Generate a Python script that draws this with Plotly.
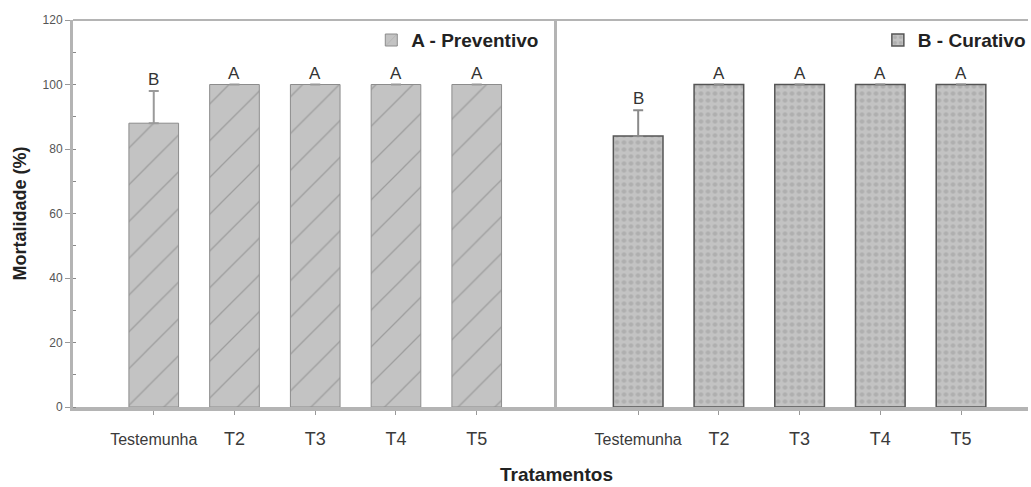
import plotly.graph_objects as go

# Treatments and mortality (%) for the two application modes
categories = ["Testemunha", "T2", "T3", "T4", "T5"]
preventivo = [88, 100, 100, 100, 100]
preventivo_err = [10, 0, 0, 0, 0]
preventivo_letters = ["B", "A", "A", "A", "A"]
curativo = [84, 100, 100, 100, 100]
curativo_err = [8, 0, 0, 0, 0]
curativo_letters = ["B", "A", "A", "A", "A"]
y_ticks = [0, 20, 40, 60, 80, 100, 120]

positions = list(range(1, len(categories) + 1))
tick_text = [
    f'<span style="font-size:16px">{c}</span>' if len(c) > 3 else c
    for c in categories
]

AXIS = "#b4b4b4"
FILL = "#c3c3c3"
FONT = "Liberation Sans, Arial, sans-serif"

fig = go.Figure()

fig.add_trace(go.Bar(
    x=positions, y=preventivo, width=0.615, name="<b>A - Preventivo</b>",
    xaxis="x", yaxis="y", legend="legend", showlegend=True,
    marker=dict(color=FILL, line=dict(color="#8c8c8c", width=1),
                pattern=dict(shape="/", fgcolor="#777777", bgcolor=FILL,
                             size=26, solidity=0.05)),
    error_y=dict(type="data", array=preventivo_err,
                 arrayminus=[0] * len(preventivo_err), symmetric=False,
                 color="#9a9a9a", thickness=2, width=5),
))

fig.add_trace(go.Bar(
    x=positions, y=curativo, width=0.615, name="<b>B - Curativo</b>",
    xaxis="x2", yaxis="y2", legend="legend2", showlegend=True,
    marker=dict(color=FILL, line=dict(color="#555555", width=1.5),
                pattern=dict(shape=".", fgcolor="#9c9c9c", bgcolor=FILL,
                             size=7, solidity=0.35)),
    error_y=dict(type="data", array=curativo_err,
                 arrayminus=[0] * len(curativo_err), symmetric=False,
                 color="#8a8a8a", thickness=2, width=5),
))

# Significance letters above each bar (and above its error bar)
annotations = []
for xr, yr, vals, errs, letters in (("x", "y", preventivo, preventivo_err, preventivo_letters),
                                    ("x2", "y2", curativo, curativo_err, curativo_letters)):
    for p, v, e, t in zip(positions, vals, errs, letters):
        annotations.append(dict(
            x=p, y=v + e, xref=xr, yref=yr, text=t, showarrow=False,
            yanchor="bottom", yshift=0,
            font=dict(family=FONT, size=17, color="#333333"),
        ))

x_common = dict(
    tickvals=positions, ticktext=tick_text, ticks="outside", ticklen=4,
    tickcolor="#999999", tickwidth=1, ticklabelstandoff=8,
    showline=True, linecolor=AXIS, linewidth=4, mirror=False,
    showgrid=False, zeroline=False,
    tickfont=dict(family=FONT, size=18, color="#3a3a3a"),
)

legend_font = dict(family=FONT, size=19, color="#222222")

fig.update_layout(
    width=1031, height=487,
    margin=dict(l=73, r=0, t=20, b=80),
    paper_bgcolor="white", plot_bgcolor="white",
    showlegend=True,
    xaxis=dict(domain=[0, 0.5073], range=[0, 6], anchor="y", **x_common),
    xaxis2=dict(domain=[0.5073, 1], range=[0, 5.83], anchor="y2", **x_common),
    yaxis=dict(
        range=[0, 120], tickvals=y_ticks, ticks="outside", ticklen=5,
        tickcolor="#999999", tickwidth=1,
        minor=dict(dtick=10, ticks="inside", ticklen=3, tickcolor="#888888"),
        showline=True, linecolor=AXIS, linewidth=3,
        showgrid=False, zeroline=False,
        tickfont=dict(family=FONT, size=12, color="#555555"),
        title=dict(text="<b>Mortalidade (%)</b>", standoff=12,
                   font=dict(family=FONT, size=18, color="#222222")),
    ),
    yaxis2=dict(
        range=[0, 120], anchor="x2", showticklabels=False, ticks="",
        showline=True, linecolor=AXIS, linewidth=3,
        showgrid=False, zeroline=False,
    ),
    legend=dict(x=0.4935, xanchor="right", y=0.997, yanchor="top",
                bgcolor="rgba(0,0,0,0)", font=legend_font),
    legend2=dict(x=1.003, xanchor="right", y=0.997, yanchor="top",
                 bgcolor="rgba(0,0,0,0)", font=legend_font),
    annotations=annotations + [dict(
        text="<b>Tratamentos</b>", xref="paper", yref="paper",
        x=0.506, y=0, yshift=-67, yanchor="middle", showarrow=False,
        font=dict(family=FONT, size=19, color="#222222"),
    )],
    shapes=[dict(type="line", xref="paper", yref="paper", x0=0, x1=1,
                 y0=1, y1=1, line=dict(color=AXIS, width=2))],
)

fig.write_html("out.html")
